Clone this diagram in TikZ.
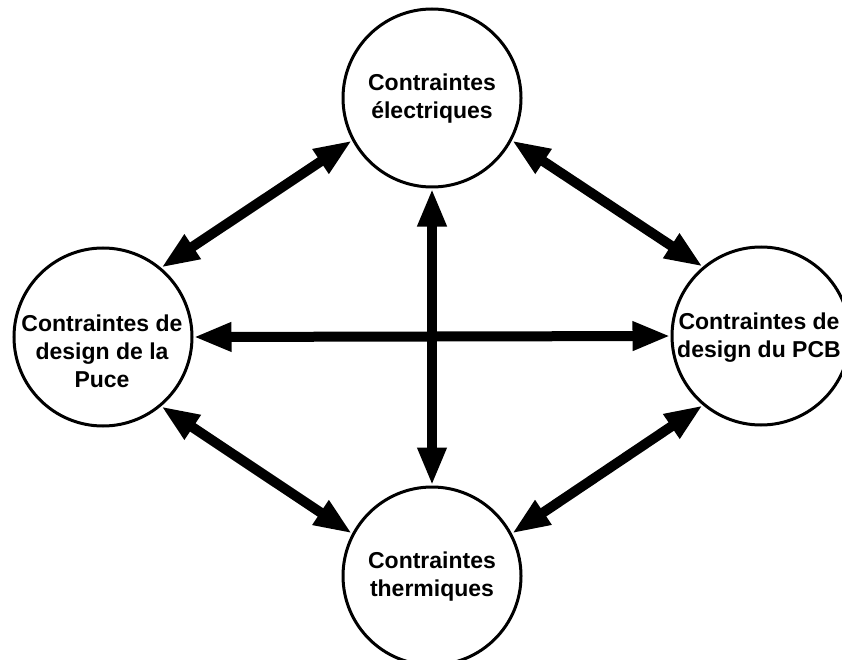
\documentclass[tikz,border=0pt]{standalone}
\usepackage{fontspec}
\setmainfont{Liberation Sans}
\usetikzlibrary{arrows.meta}
\begin{document}
\begin{tikzpicture}[x=1pt,y=-1pt,
  box/.style={circle, draw, line width=3pt, minimum size=178pt, inner sep=0pt, fill=white},
  lbl/.style={align=center, inner sep=0pt, font=\bfseries\fontsize{23}{28}\selectfont},
  dbl/.style={line width=10pt, {Triangle[length=38pt,width=27pt]}-{Triangle[length=38pt,width=27pt]}}]
\useasboundingbox (0,0) rectangle (842,660);
\clip (0,0) rectangle (842,660);
\fill[white] (0,0) rectangle (842,660);
\node[box] (elec) at (432,98) {};
\node[box] (puce) at (103,337) {};
\node[box] (pcb) at (761,336) {};
\node[box] (therm) at (432,576) {};
\node[lbl] (elecT) at (432,99) {Contraintes\\électriques};
\node[lbl] (puceT) at (102,351) {Contraintes de\\design de la\\Puce};
\node[lbl] (pcbT) at (759,338) {Contraintes de\\design du PCB};
\node[lbl] (thermT) at (432,577) {Contraintes\\thermiques};
\draw[dbl] (elec.208) -- (puce.50);
\draw[dbl] (elec.332) -- (pcb.130);
\draw[dbl] (puce.-50) -- (therm.152);
\draw[dbl] (pcb.230) -- (therm.28);
\draw[dbl] (elec.270) -- (therm.90);
\draw[dbl] (puce.0) -- (pcb.180);
\end{tikzpicture}
\end{document}
